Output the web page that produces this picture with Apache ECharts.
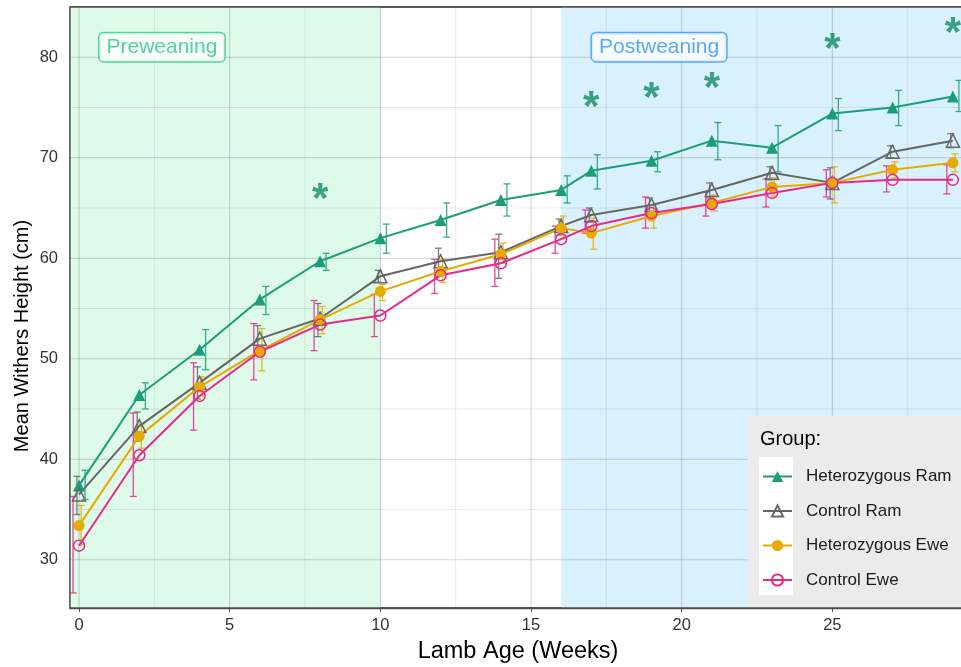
<!DOCTYPE html>
<html><head><meta charset="utf-8">
<script src="https://cdn.jsdelivr.net/npm/echarts@6/dist/echarts.min.js"></script>
<style>html,body{margin:0;padding:0;background:#fff}#c{width:961px;height:667px}</style>
</head><body><div id="c"></div>
<script>
// ---- data ----
const weeks = [0, 2, 4, 6, 8, 10, 12, 14, 16, 17, 19, 21, 23, 25, 27, 29];

const hetRam   = [37.4, 46.4, 50.9, 55.9, 59.7, 62.0, 63.8, 65.8, 66.8, 68.7, 69.7, 71.7, 71.0, 74.4, 75.0, 76.1];
const hetRamLo = [36.0, 45.0, 48.9, 54.4, 58.8, 60.5, 62.1, 64.2, 65.5, 66.9, 68.6, 69.8, 68.6, 72.7, 73.2, 74.6];
const hetRamHi = [38.9, 47.6, 52.9, 57.2, 60.5, 63.4, 65.5, 67.4, 68.2, 70.3, 70.6, 73.5, 73.2, 75.9, 76.7, 77.7];

const ctlRam   = [36.5, 43.3, 47.6, 52.0, 54.0, 58.2, 59.7, 60.6, 63.2, 64.3, 65.3, 66.8, 68.5, 67.5, 70.6, 71.7];
const ctlRamLo = [34.5, 41.8, 46.0, 50.6, 52.2, 57.6, 58.2, 58.0, 62.3, 63.6, 64.6, 66.0, 67.8, 65.9, 70.0, 71.0];
const ctlRamHi = [38.3, 44.7, 49.2, 53.3, 55.5, 58.8, 61.0, 62.4, 63.9, 65.0, 66.0, 67.5, 69.1, 69.0, 71.2, 72.4];

const hetEwe   = [33.4, 42.3, 47.2, 50.8, 53.9, 56.7, 58.7, 60.4, 63.0, 62.5, 64.2, 65.5, 67.1, 67.5, 68.8, 69.5];
const hetEweLo = [31.5, 41.1, 46.3, 48.8, 52.5, 55.8, 57.6, 59.5, 62.0, 60.9, 63.0, 64.7, 66.2, 65.5, 68.0, 68.6];
const hetEweHi = [35.4, 43.5, 48.2, 53.0, 55.2, 57.4, 59.9, 61.5, 64.2, 64.0, 65.3, 66.3, 68.0, 69.1, 69.6, 70.4];

const ctlEwe   = [31.4, 40.4, 46.3, 50.7, 53.4, 54.3, 58.3, 59.5, 61.9, 63.2, 64.5, 65.4, 66.5, 67.5, 67.8, 67.8];
const ctlEweLo = [26.7, 36.3, 42.9, 47.9, 50.8, 52.2, 56.5, 57.2, 60.5, 62.5, 63.0, 64.2, 65.1, 66.1, 66.6, 66.4];
const ctlEweHi = [36.3, 44.6, 49.6, 53.5, 55.8, 56.4, 59.9, 61.9, 63.2, 64.8, 66.1, 66.6, 67.9, 68.8, 69.2, 69.3];

const starWeeks = [8, 17, 19, 21, 25, 29];
const starY     = [66.8, 76.0, 76.9, 77.9, 81.8, 83.4];

const xTicks = [0, 5, 10, 15, 20, 25];
const yTicks = [30, 40, 50, 60, 70, 80];
const xMinor = [2.5, 7.5, 12.5, 17.5, 22.5, 27.5];
const yMinor = [35, 45, 55, 65, 75];

const groupNames = ['Heterozygous Ram', 'Control Ram', 'Heterozygous Ewe', 'Control Ewe'];
const phaseLabels = ['Preweaning', 'Postweaning'];
const phaseRanges = [[-0.3, 10], [16, 29.27]];

// ---- styling ----
const X_MIN = -0.3, X_MAX = 29.27, Y_MIN = 25.2, Y_MAX = 85;
const FONT = 'Liberation Sans, Arial, sans-serif';
const C_TEAL = '#1b9e77', C_GRAY = '#666666', C_ORANGE = '#e6ab02', C_PINK = '#e7298a';

function errSeries(name, color, lo, hi, dodge) {
  return {
    type: 'custom', name: name + ' err', z: 3, silent: true, clip: false,
    data: weeks.map((w, i) => [w + dodge, lo[i], hi[i]]),
    renderItem: function (params, api) {
      const x = api.value(0), l = api.value(1), h = api.value(2);
      const p1 = api.coord([x, l]), p2 = api.coord([x, h]);
      const hw = 3.5;
      const style = { stroke: color, lineWidth: 1.3, opacity: 0.85 };
      return { type: 'group', children: [
        { type: 'line', shape: { x1: p1[0], y1: p1[1], x2: p2[0], y2: p2[1] }, style: style },
        { type: 'line', shape: { x1: p1[0] - hw, y1: p1[1], x2: p1[0] + hw, y2: p1[1] }, style: style },
        { type: 'line', shape: { x1: p2[0] - hw, y1: p2[1], x2: p2[0] + hw, y2: p2[1] }, style: style }
      ]};
    }
  };
}

function lineSeries(name, vals, color, symbol, size, filled) {
  return {
    type: 'line', name: name, z: 4,
    data: weeks.map((w, i) => [w, vals[i]]),
    symbol: symbol, symbolSize: size, showSymbol: true,
    lineStyle: { color: color, width: 2 },
    itemStyle: filled ? { color: color, borderWidth: 0 } :
      { color: 'rgba(255,255,255,0)', borderColor: color, borderWidth: 1.5 },
    emphasis: { disabled: true }
  };
}

const gridData = [];
xMinor.forEach(v => gridData.push([v, 1, 0]));
yMinor.forEach(v => gridData.push([v, 0, 0]));
xTicks.forEach(v => gridData.push([v, 1, 1]));
yTicks.forEach(v => gridData.push([v, 0, 1]));

const option = {
  animation: false,
  textStyle: { fontFamily: FONT },
  grid: { left: 70, right: -2, top: 7, bottom: 59, show: true, borderColor: '#4d4d4d', borderWidth: 1.3, backgroundColor: '#fff' },
  xAxis: {
    type: 'value', min: X_MIN, max: X_MAX,
    axisLine: { show: true, lineStyle: { color: '#4d4d4d', width: 1.3 } },
    axisTick: { show: true, length: 4, customValues: xTicks, lineStyle: { color: '#4d4d4d' } },
    axisLabel: { customValues: xTicks, fontSize: 16.5, color: '#333', margin: 9, fontFamily: FONT },
    splitLine: { show: false }
  },
  yAxis: {
    type: 'value', min: Y_MIN, max: Y_MAX,
    axisLine: { show: true, lineStyle: { color: '#4d4d4d', width: 1.3 } },
    axisTick: { show: true, length: 4, customValues: yTicks, lineStyle: { color: '#4d4d4d' } },
    axisLabel: { customValues: yTicks, fontSize: 16.5, color: '#333', margin: 12, fontFamily: FONT },
    splitLine: { show: false }
  },
  legend: {
    orient: 'vertical', left: 762, top: 468, padding: 0, itemGap: 17.5,
    itemWidth: 29, itemHeight: 14, z: 20,
    data: groupNames,
    textStyle: { fontSize: 17, color: '#1a1a1a', fontFamily: FONT, padding: [0, 0, 0, 9] },
    selectedMode: false
  },
  graphic: [
    { type: 'rect', z: 10, shape: { x: 748, y: 416, width: 220, height: 191 }, style: { fill: '#ebebeb' } },
    { type: 'rect', z: 11, shape: { x: 759, y: 457, width: 34, height: 138 }, style: { fill: '#ffffff' } },
    { type: 'text', z: 11, x: 760, y: 439, style: { text: 'Group:', font: '20px ' + FONT, fill: '#000', textVerticalAlign: 'middle' } },
    { type: 'text', z: 11, x: 518, y: 652, style: { text: 'Lamb Age (Weeks)', font: '23.5px ' + FONT, fill: '#000', textAlign: 'center', textVerticalAlign: 'middle' } },
    { type: 'text', z: 11, x: 22, y: 336, rotation: Math.PI / 2, style: { text: 'Mean Withers Height (cm)', font: '20px ' + FONT, fill: '#000', textAlign: 'center', textVerticalAlign: 'middle' } }
  ],
  series: [
    {
      type: 'custom', name: 'shading', z: 1, silent: true,
      data: phaseRanges.map((r, i) => [r[0], r[1], i]),
      renderItem: function (params, api) {
        const cs = params.coordSys;
        const x0 = api.coord([api.value(0), Y_MIN])[0];
        const x1 = api.coord([api.value(1), Y_MIN])[0];
        const fills = ['#defae9', '#d9f1fc'];
        return { type: 'rect', shape: { x: x0, y: cs.y, width: x1 - x0, height: cs.height }, style: { fill: fills[api.value(2)] } };
      }
    },
    {
      type: 'custom', name: 'gridlines', z: 2, silent: true,
      data: gridData,
      renderItem: function (params, api) {
        const cs = params.coordSys;
        const v = api.value(0), vert = api.value(1), major = api.value(2);
        const style = { stroke: major ? 'rgba(0,0,0,0.17)' : 'rgba(0,0,0,0.09)', lineWidth: major ? 1.1 : 0.9 };
        if (vert) {
          const px = api.coord([v, 50])[0];
          return { type: 'line', shape: { x1: px, y1: cs.y, x2: px, y2: cs.y + cs.height }, style: style };
        }
        const py = api.coord([0, v])[1];
        return { type: 'line', shape: { x1: cs.x, y1: py, x2: cs.x + cs.width, y2: py }, style: style };
      }
    },
    errSeries(groupNames[0], C_TEAL, hetRamLo, hetRamHi, 0.2),
    errSeries(groupNames[1], C_GRAY, ctlRamLo, ctlRamHi, -0.07),
    errSeries(groupNames[2], C_ORANGE, hetEweLo, hetEweHi, 0.07),
    errSeries(groupNames[3], C_PINK, ctlEweLo, ctlEweHi, -0.2),
    lineSeries(groupNames[0], hetRam, C_TEAL, 'triangle', 12, true),
    lineSeries(groupNames[1], ctlRam, C_GRAY, 'triangle', 13, false),
    lineSeries(groupNames[2], hetEwe, C_ORANGE, 'circle', 11, true),
    lineSeries(groupNames[3], ctlEwe, C_PINK, 'circle', 11, false),
    {
      type: 'scatter', name: 'stars', z: 5, silent: true,
      data: starWeeks.map((w, i) => [w, starY[i]]),
      symbol: 'circle', symbolSize: 1, itemStyle: { color: 'rgba(0,0,0,0)' },
      label: { show: true, position: 'inside', formatter: '*', fontSize: 42, fontWeight: 'bold', color: '#118c66', offset: [0, 11], fontFamily: FONT }
    },
    {
      type: 'scatter', name: 'phases', z: 6, silent: true,
      data: [
        { value: [2.75, 81.0, 0], label: { color: '#27c886', borderColor: '#2ecc8a' } },
        { value: [19.25, 81.0, 1], label: { color: '#2f94fb', borderColor: '#3399ff' } }
      ],
      symbol: 'circle', symbolSize: 1, itemStyle: { color: 'rgba(0,0,0,0)' },
      label: {
        show: true, position: 'inside', fontFamily: FONT, fontSize: 21,
        formatter: p => phaseLabels[p.value[2]],
        backgroundColor: '#fff', borderWidth: 1.5, borderRadius: 4, padding: [4, 7, 3, 7]
      }
    },
    {
      type: 'custom', name: 'frame', z: 8, silent: true, clip: false,
      data: [[0, 50]],
      renderItem: function (params, api) {
        const cs = params.coordSys;
        const st = { stroke: '#4d4d4d', lineWidth: 1.3 };
        return { type: 'group', children: [
          { type: 'line', shape: { x1: cs.x, y1: cs.y, x2: cs.x + cs.width, y2: cs.y }, style: st },
          { type: 'line', shape: { x1: cs.x, y1: cs.y, x2: cs.x, y2: cs.y + cs.height }, style: st },
          { type: 'line', shape: { x1: cs.x, y1: cs.y + cs.height, x2: cs.x + cs.width, y2: cs.y + cs.height }, style: st }
        ]};
      }
    }
  ]
};

const chart = echarts.init(document.getElementById('c'), null, { renderer: 'canvas' });
chart.setOption(option);
</script>
</body></html>
